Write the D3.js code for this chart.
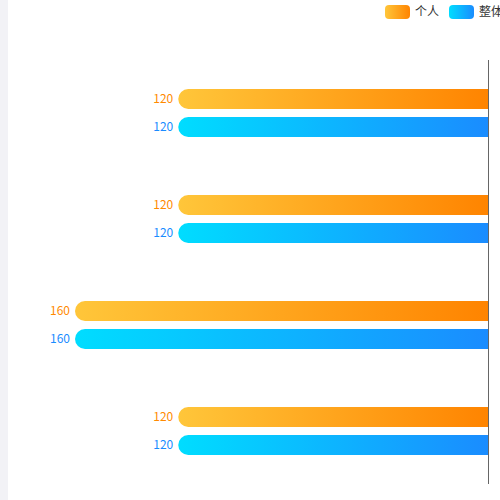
<!DOCTYPE html>
<meta charset="utf-8">
<style>
body { margin:0; background:#fff; font-family:"Noto Sans CJK SC", sans-serif; }
</style>
<body>
<svg id="chart" width="500" height="500"></svg>
<script src="https://d3js.org/d3.v7.min.js"></script>
<script>
var categories = ["A", "B", "C", "D"];
var personal = [120, 120, 160, 120];
var overall = [120, 120, 160, 120];
var seriesNames = ["个人", "整体"];

var svg = d3.select("#chart");
svg.append("rect").attr("x", 0).attr("y", 0).attr("width", 8).attr("height", 500).attr("fill", "#f2f2f6");

var defs = svg.append("defs");
function grad(id, c0, c1) {
  var g = defs.append("linearGradient").attr("id", id).attr("x1", "0").attr("x2", "1").attr("y1", "0").attr("y2", "0");
  g.append("stop").attr("offset", "0").attr("stop-color", c0);
  g.append("stop").attr("offset", "1").attr("stop-color", c1);
}
grad("gOrange", "#ffc63a", "#ff8400");
grad("gBlue", "#00ddff", "#1a8cff");

var x = d3.scaleLinear().domain([0, 160]).range([488, 75]);
var y = d3.scaleBand().domain(categories).range([60, 484]);
var bh = 20, r = 10;

function barPath(v, cy) {
  var x0 = x(v), x1 = x(0), t = cy - bh / 2;
  return "M" + x1 + "," + t + "H" + (x0 + r) + "A" + r + "," + r + " 0 0 0 " + (x0 + r) + "," + (t + bh) + "H" + x1 + "Z";
}

var series = [
  {vals: personal, fill: "url(#gOrange)", text: "#ff8a00", off: -14},
  {vals: overall, fill: "url(#gBlue)", text: "#1a8cff", off: 14}
];
series.forEach(function(s) {
  var g = svg.append("g");
  g.selectAll("path").data(categories).enter().append("path")
    .attr("d", function(d, i) { return barPath(s.vals[i], y(d) + y.bandwidth() / 2 + s.off); })
    .attr("fill", s.fill);
  g.selectAll("text").data(categories).enter().append("text")
    .attr("x", function(d, i) { return x(s.vals[i]) - 5; })
    .attr("y", function(d) { return y(d) + y.bandwidth() / 2 + s.off; })
    .attr("dy", "0.35em").attr("text-anchor", "end")
    .attr("font-size", 12).attr("fill", s.text)
    .text(function(d, i) { return s.vals[i]; });
});

svg.append("line").attr("x1", x(0) + 0.5).attr("x2", x(0) + 0.5).attr("y1", 60).attr("y2", 484)
  .attr("stroke", "#666").attr("stroke-width", 1);

var leg = svg.append("g");
[["gOrange", 385], ["gBlue", 449]].forEach(function(d, i) {
  leg.append("rect").attr("x", d[1]).attr("y", 5).attr("width", 25).attr("height", 14).attr("rx", 4)
    .attr("fill", "url(#" + d[0] + ")");
  leg.append("text").attr("x", d[1] + 30).attr("y", 12).attr("dy", "0.35em")
    .attr("font-size", 12).attr("fill", "#333").text(seriesNames[i]);
});
</script>
</body>
